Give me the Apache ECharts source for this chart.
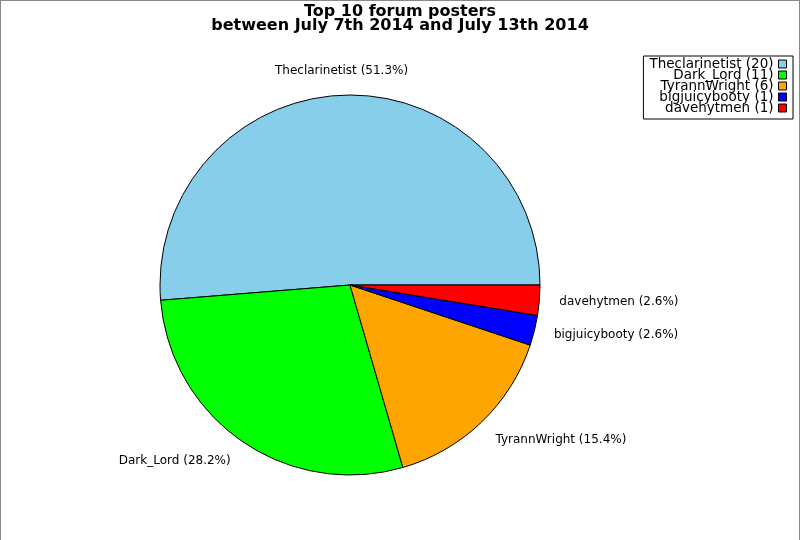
<!DOCTYPE html>
<html>
<head>
<meta charset="utf-8">
<script src="https://cdn.jsdelivr.net/npm/echarts@6/dist/echarts.min.js"></script>
<style>
html,body{margin:0;padding:0;background:#fff;}
#chart{position:absolute;left:0;top:0;width:800px;height:540px;}
#frame{position:absolute;left:0;top:0;width:800px;height:540px;box-sizing:border-box;border:1px solid #888;border-bottom:none;pointer-events:none;}
</style>
</head>
<body>
<div id="chart"></div>
<div id="frame"></div>
<script>
const titleText = 'Top 10 forum posters\nbetween July 7th 2014 and July 13th 2014';
const names = ['Theclarinetist', 'Dark_Lord', 'TyrannWright', 'bigjuicybooty', 'davehytmen'];
const posts = [20, 11, 6, 1, 1];
const colors = ['#87CEEB', '#00FF00', '#FFA500', '#0000FF', '#FF0000'];

const FONT = 'DejaVu Sans';
const total = posts.reduce((a, b) => a + b, 0);
const chart = echarts.init(document.getElementById('chart'), null, {renderer: 'canvas'});
chart.setOption({
  animation: false,
  backgroundColor: '#fff',
  color: colors,
  title: {
    text: titleText,
    left: 'center',
    top: 5,
    padding: 0,
    textStyle: {fontFamily: FONT, fontWeight: 'bold', fontSize: 16, lineHeight: 14, color: '#000'}
  },
  legend: {
    orient: 'vertical',
    right: 7,
    top: 56,
    align: 'right',
    itemWidth: 8,
    itemHeight: 8,
    itemGap: -3,
    padding: [1, 6, 4, 6],
    borderColor: '#000',
    borderWidth: 1,
    borderRadius: 0,
    icon: 'rect',
    itemStyle: {borderColor: '#000', borderWidth: 1},
    textStyle: {fontFamily: FONT, fontSize: 13.5, lineHeight: 11, color: '#000'},
    data: names,
    formatter: function (n) { return n + ' (' + posts[names.indexOf(n)] + ')'; }
  },
  series: [{
    type: 'pie',
    center: [350, 285],
    radius: 190,
    startAngle: 0,
    clockwise: false,
    avoidLabelOverlap: false,
    itemStyle: {borderColor: '#000', borderWidth: 1},
    label: {
      show: true,
      position: 'outside',
      formatter: function (p) { return p.name + ' (' + (p.value / total * 100).toFixed(1) + '%)'; },
      fontFamily: FONT,
      fontSize: 12,
      color: '#000',
      distanceToLabelLine: 0
    },
    labelLine: {show: false, length: 20, length2: 0},
    labelLayout: function (p) {
      if (p.dataIndex === 0) return {align: 'center', verticalAlign: 'bottom', dy: 2};
      if (p.dataIndex === 1 || p.dataIndex === 2) return {dy: 3};
      return {};
    },
    emphasis: {disabled: true},
    data: names.map((n, i) => ({name: n, value: posts[i]}))
  }]
});
</script>
</body>
</html>
